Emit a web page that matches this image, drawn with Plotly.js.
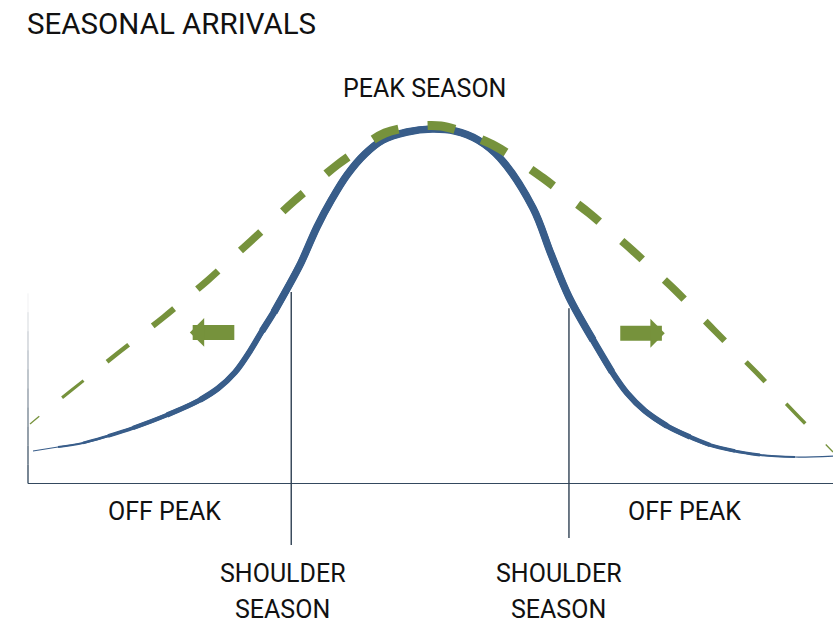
<!DOCTYPE html>
<html>
<head>
<meta charset="utf-8">
<script src="https://cdn.plot.ly/plotly-3.0.1.min.js"></script>
<style>html,body{margin:0;padding:0;background:#fff;}#chart{width:833px;height:626px;}</style>
</head>
<body>
<div id="chart"></div>
<script>
// Demand curve (blue, solid): x = time through the year (0-100), y = arrivals (0-100)
const arrivalsX = [0.62, 3.73, 6.83, 9.94, 13.04, 17.27, 21.37, 23.60, 25.71, 27.58, 29.07, 30.56, 32.17, 33.91, 35.90, 37.76, 39.63, 41.86, 44.10, 47.08, 50.19, 53.04, 55.90, 58.63, 62.73, 64.97, 67.20, 70.19, 72.55, 74.41, 76.65, 79.38, 82.24, 84.72, 87.83, 90.93, 95.28, 100.0];
const arrivalsY = [7.62, 8.56, 9.50, 11.14, 13.02, 16.08, 19.61, 22.33, 26.10, 31.12, 35.82, 40.29, 45.69, 51.86, 60.28, 66.86, 72.50, 77.44, 80.73, 82.61, 83.32, 82.84, 80.73, 76.50, 64.74, 53.93, 43.82, 33.71, 26.19, 21.25, 17.02, 13.49, 10.91, 9.03, 7.62, 6.68, 6.21, 6.44];

// Extended-season curve (green, dashed)
const extendedX = [0.25, 2.80, 5.59, 8.39, 11.18, 14.04, 16.89, 19.63, 22.36, 25.03, 27.70, 30.31, 32.92, 35.65, 38.39, 41.37, 44.35, 47.83, 51.30, 54.66, 58.01, 60.99, 63.98, 66.83, 69.69, 72.36, 75.03, 77.70, 80.37, 82.86, 85.34, 87.89, 90.43, 92.92, 95.40, 97.89, 100.0];
const extendedY = [13.96, 17.96, 22.19, 26.42, 30.65, 34.88, 39.12, 43.46, 47.81, 52.40, 56.98, 61.57, 66.15, 70.50, 74.85, 78.84, 82.37, 83.90, 84.02, 82.13, 79.31, 75.78, 71.79, 67.68, 63.56, 59.21, 54.87, 50.16, 45.46, 40.64, 35.83, 31.01, 26.19, 21.26, 16.32, 11.50, 7.38];

// Shoulder season markers
const shoulderX = [32.7, 67.2];
const shoulderTop = [45.0, 41.2];
const shoulderBottom = [-14.5, -12.8];

// Labels
const titleText = 'SEASONAL ARRIVALS';
const peakLabel = 'PEAK SEASON';
const offPeakLabel = 'OFF PEAK';
const shoulderLabel = ['SHOULDER', 'SEASON'];

// ---- styles ----
const BLUE = '#385D8A';
const GREEN = '#76923C';
const DARK = '#34495E';
const FONT = 'Roboto, "Noto Sans", sans-serif';
// [first point index, last point index, line width] : tapering stroke
const blueTiers = [[0, 37, 1.2], [1, 36, 2], [2, 35, 2.8], [3, 34, 3.6], [4, 33, 4.4], [5, 32, 5.2], [6, 31, 6], [10, 28, 6.8], [11, 27, 7.5]];
const greenWidths = [1.3, 3, 4.5, 6, 7, 7.5, 8, 8.5, 9, 9, 9, 8.5, 8.5, 8, 7.5, 6.5, 5, 3.5, 1.3];
const Y_MIN = -18, Y_MAX = 100;

const traces = [];
blueTiers.forEach(([a, b, w]) => {
  traces.push({
    type: 'scatter', mode: 'lines',
    x: arrivalsX.slice(a, b + 1), y: arrivalsY.slice(a, b + 1),
    line: {color: BLUE, width: w, shape: 'spline', smoothing: 1},
    hoverinfo: 'skip'
  });
});
const nG = extendedX.length;
const pieces = [];
pieces.push({idx: [0, 1], dash: '12px,40px'});
for (let k = 1; 2 * k + 1 <= nG - 2; k++) {
  pieces.push({idx: [2 * k - 1, 2 * k, 2 * k + 1], dash: '0px,14.5px,28px,14.5px'});
}
pieces.push({idx: [nG - 2, nG - 1], dash: '0px,14px,40px'});
pieces.forEach((p, i) => {
  traces.push({
    type: 'scatter', mode: 'lines',
    x: p.idx.map(j => extendedX[j]), y: p.idx.map(j => extendedY[j]),
    line: {color: GREEN, width: greenWidths[i] || 6, shape: 'spline', dash: p.dash},
    hoverinfo: 'skip'
  });
});
shoulderX.forEach((sx, i) => {
  traces.push({
    type: 'scatter', mode: 'lines',
    x: [sx, sx], y: [shoulderTop[i], shoulderBottom[i]],
    line: {color: '#2E4053', width: 1.4},
    hoverinfo: 'skip'
  });
});

const shapes = [];
const nSeg = 10, axTop = 44.7;
for (let s = 0; s < nSeg; s++) {
  const y0 = axTop * s / nSeg, y1 = axTop * (s + 1) / nSeg;
  const op = 1 - (s + 0.5) / nSeg;
  shapes.push({
    type: 'line', xref: 'paper', yref: 'paper',
    x0: 0, x1: 0,
    y0: (y0 - Y_MIN) / (Y_MAX - Y_MIN), y1: (y1 - Y_MIN) / (Y_MAX - Y_MIN),
    line: {color: 'rgba(52,73,94,' + op.toFixed(2) + ')', width: 1.4}
  });
}

const txt = (text, x, y, size, xanchor) => ({
  text: text, xref: 'paper', yref: 'paper', x: x, y: y,
  xanchor: xanchor || 'center', yanchor: 'middle', showarrow: false,
  font: {family: FONT, size: size, color: '#111111'}
});
const py = p => (559.5 - p) / 502;
const px = p => (p - 28) / 805;

const annotations = [
  txt(titleText, px(25), py(23.5), 29.5, 'left'),
  txt(peakLabel, px(424.5), py(88), 25),
  txt(offPeakLabel, px(164.5), py(511), 25),
  txt(offPeakLabel, px(684), py(511), 25),
  txt(shoulderLabel[0], px(282.5), py(572.5), 25),
  txt(shoulderLabel[1], px(282.5), py(609), 25),
  txt(shoulderLabel[0], px(558.5), py(572.5), 25),
  txt(shoulderLabel[1], px(558.5), py(609), 25),
  {x: 20.1, y: 35.5, xref: 'x', yref: 'y', text: '', showarrow: true, ax: 46, ay: 0,
   arrowhead: 1, arrowwidth: 15, arrowsize: 0.32, arrowcolor: GREEN, standoff: 0, font: {size: 1}},
  {x: 79.1, y: 35.3, xref: 'x', yref: 'y', text: '', showarrow: true, ax: -46, ay: 0,
   arrowhead: 1, arrowwidth: 15, arrowsize: 0.32, arrowcolor: GREEN, standoff: 0, font: {size: 1}}
];

const layout = {
  width: 833, height: 626,
  margin: {l: 28, r: 0, t: 58, b: 66},
  paper_bgcolor: '#ffffff', plot_bgcolor: '#ffffff',
  showlegend: false,
  xaxis: {range: [0, 100], showgrid: false, zeroline: false, showticklabels: false, ticks: '', showline: false, fixedrange: true},
  yaxis: {range: [Y_MIN, Y_MAX], showgrid: false, zeroline: true, zerolinecolor: DARK, zerolinewidth: 1.5,
          showticklabels: false, ticks: '', showline: false, fixedrange: true},
  shapes: shapes,
  annotations: annotations
};

Plotly.newPlot('chart', traces, layout, {displayModeBar: false, staticPlot: true});
</script>
</body>
</html>
